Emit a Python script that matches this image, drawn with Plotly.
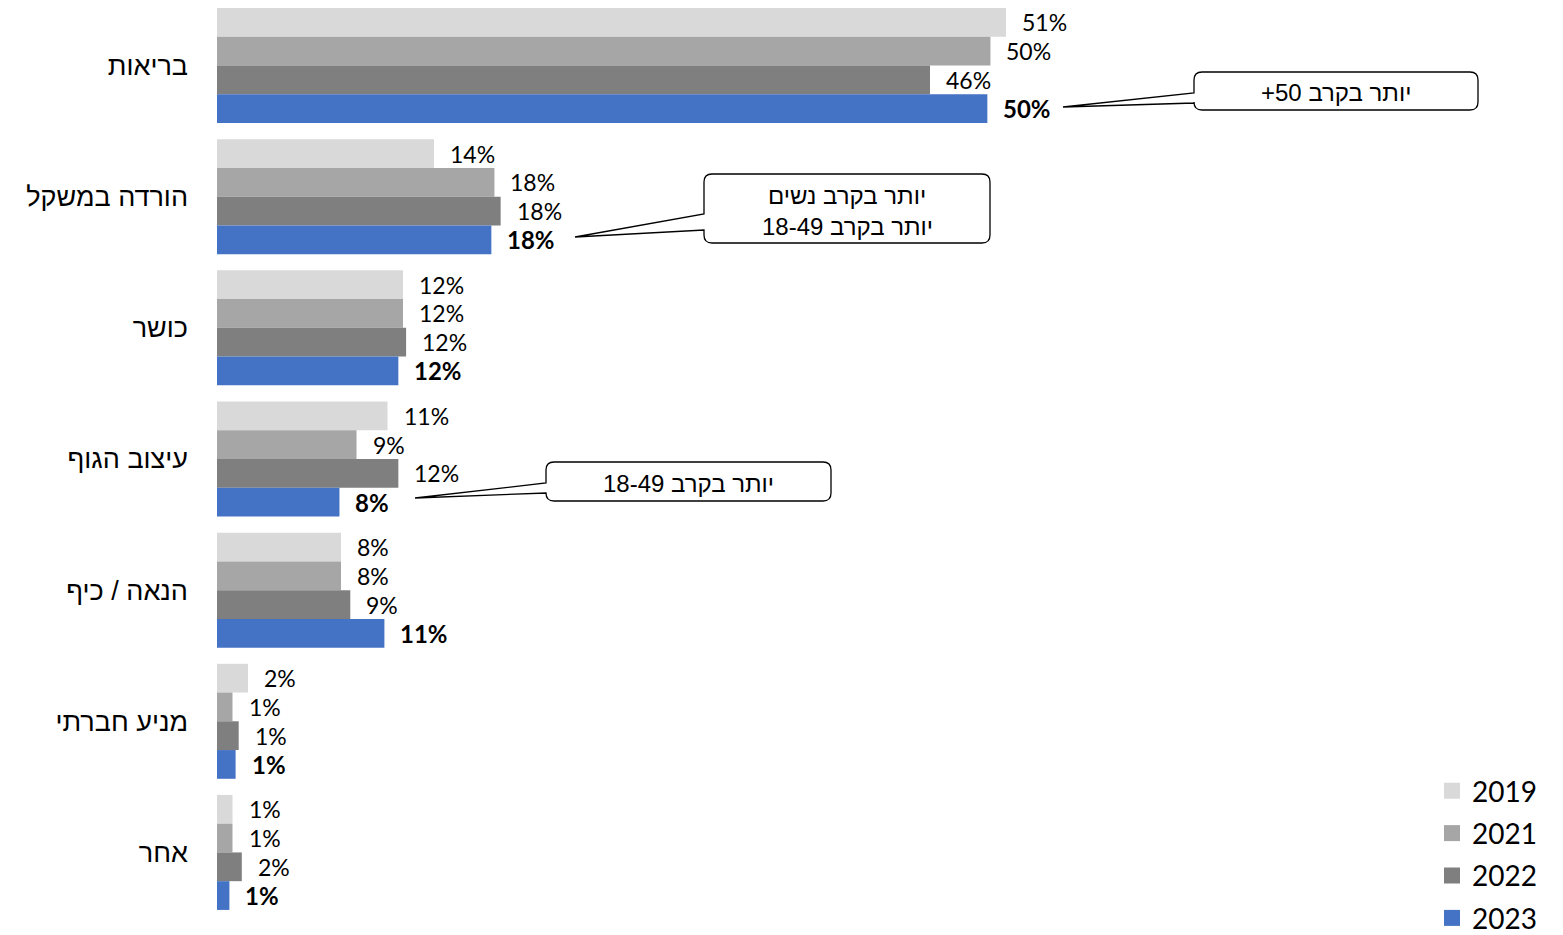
import plotly.graph_objects as go

# ---- data -------------------------------------------------------------
categories = ["בריאות", "הורדה במשקל", "כושר", "עיצוב הגוף", "הנאה / כיף", "מניע חברתי", "אחר"]
years = ["2019", "2021", "2022", "2023"]
v2019 = [50.9, 14.0, 12.0, 11.0, 8.0, 2.0, 1.0]
v2021 = [49.9, 17.9, 12.0, 9.0, 8.0, 1.0, 1.0]
v2022 = [46.0, 18.3, 12.2, 11.7, 8.6, 1.4, 1.6]
v2023 = [49.7, 17.7, 11.7, 7.9, 10.8, 1.2, 0.8]
series = [v2019, v2021, v2022, v2023]
colors = ["#D9D9D9", "#A6A6A6", "#7F7F7F", "#4472C4"]

callout_1 = ["יותר בקרב 50+\u200f"]
callout_2 = ["יותר בקרב נשים", "יותר בקרב 18-49"]
callout_3 = ["יותר בקרב 18-49"]

# ---- layout geometry ---------------------------------------------------
W, H = 1563, 935
ML, MR, MT, MB = 217, 0, 0, 17
PW, PH = W - ML - MR, H - MT - MB
PX_PER_UNIT = 15.5
XMAX = PW / PX_PER_UNIT
BARGAP = 0.123

NUM_FONT = "Lato, 'Liberation Sans', sans-serif"
HEB_FONT = "'Liberation Sans', Arial, sans-serif"


def fx(px):
    return (px - ML) / PW


def fy(py):
    return 1 - (py - MT) / PH


fig = go.Figure()

for name, vals, col in zip(years, series, colors):
    fig.add_trace(go.Bar(
        y=categories, x=vals, orientation="h", name=name,
        marker=dict(color=col, line=dict(width=0)),
        showlegend=False, hoverinfo="x+y",
    ))
    # legend entry with a larger square swatch
    fig.add_trace(go.Scatter(
        x=[None], y=[None], mode="markers", name=name, legendgroup=name,
        marker=dict(symbol="square", size=18, color=col),
    ))

# value labels at the end of each bar
pitch = PH / len(categories)
bar_h = pitch * (1 - BARGAP) / len(series)
annotations = []
for i, vals in enumerate(series):
    shift = (1.5 - i) * bar_h
    last = i == len(series) - 1
    for cat, v in zip(categories, vals):
        annotations.append(dict(
            x=v, y=cat, xref="x", yref="y", text=f"{v:.0f}%",
            showarrow=False, xanchor="left", yanchor="middle",
            xshift=14, yshift=shift,
            font=dict(family=NUM_FONT, size=24 if last else 23, color="#000000",
                      weight="bold" if last else "normal"),
        ))

# callout boxes: (left, top, right, bottom), tip, join points on left side, text lines
callouts = [
    dict(box=(1194, 72, 1478, 110), tip=(1063, 107), joins=(93, 103),
         lines=callout_1, ys=[93]),
    dict(box=(704, 174, 990, 243), tip=(575, 237), joins=(214, 230),
         lines=callout_2, ys=[195, 227]),
    dict(box=(546, 462, 831, 501), tip=(415, 498), joins=(483, 493),
         lines=callout_3, ys=[483]),
]
shapes = []
R = 8
for c in callouts:
    x0, y0, x1, y1 = c["box"]
    tx, ty = c["tip"]
    ju, jl = c["joins"]
    pts = [
        ("M", (x0 + R, y0)), ("L", (x1 - R, y0)), ("Q", (x1, y0), (x1, y0 + R)),
        ("L", (x1, y1 - R)), ("Q", (x1, y1), (x1 - R, y1)),
        ("L", (x0 + R, y1)), ("Q", (x0, y1), (x0, y1 - R)),
        ("L", (x0, jl)), ("L", (tx, ty)), ("L", (x0, ju)),
        ("L", (x0, y0 + R)), ("Q", (x0, y0), (x0 + R, y0)),
    ]
    path = ""
    for seg in pts:
        cmd, coords = seg[0], seg[1:]
        path += cmd + " ".join(f"{fx(px):.5f},{fy(py):.5f}" for px, py in coords) + " "
    path += "Z"
    shapes.append(dict(type="path", path=path, xref="paper", yref="paper",
                       fillcolor="white", line=dict(color="black", width=1.3)))
    cx = (x0 + x1) / 2
    for line, ly in zip(c["lines"], c["ys"]):
        annotations.append(dict(
            x=fx(cx), y=fy(ly), xref="paper", yref="paper", text=line,
            showarrow=False, xanchor="center", yanchor="middle",
            font=dict(family=HEB_FONT, size=24, color="#000000"),
        ))

fig.update_layout(
    width=W, height=H,
    margin=dict(l=ML, r=MR, t=MT, b=MB, pad=0, autoexpand=False),
    paper_bgcolor="white", plot_bgcolor="white",
    barmode="group", bargap=BARGAP, bargroupgap=0,
    xaxis=dict(range=[0, XMAX], visible=False, fixedrange=True),
    yaxis=dict(
        categoryorder="array", categoryarray=categories,
        range=[len(categories) - 0.5, -0.5], autorange=False,
        showgrid=False, showline=False, zeroline=False,
        ticks="", ticklabelstandoff=28, fixedrange=True,
        tickfont=dict(family=HEB_FONT, size=27, color="#000000"),
    ),
    legend=dict(
        x=fx(1432), y=fy(766), xanchor="left", yanchor="top",
        font=dict(family=NUM_FONT, size=28, color="#000000"),
        tracegroupgap=3, itemsizing="trace", bgcolor="rgba(0,0,0,0)",
    ),
    showlegend=True,
    shapes=shapes,
    annotations=annotations,
)

fig.write_html("out.html")
